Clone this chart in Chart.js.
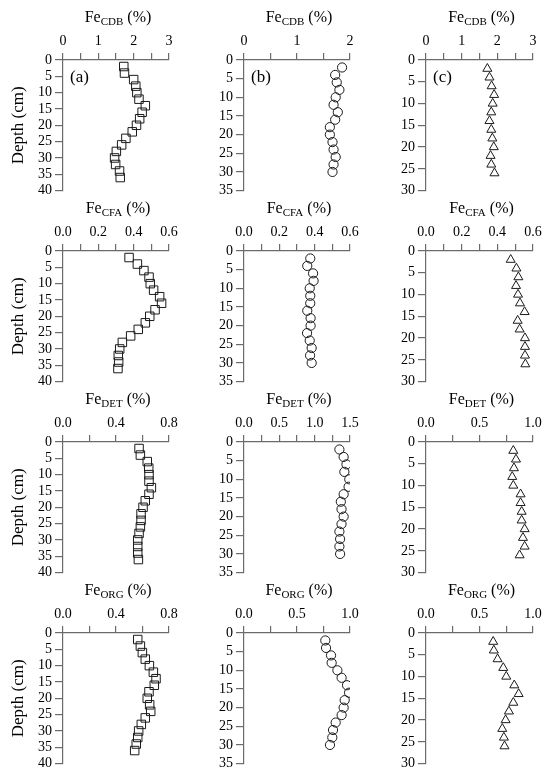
<!DOCTYPE html>
<html>
<head>
<meta charset="utf-8">
<script src="https://cdn.jsdelivr.net/npm/chart.js@4.4.1/dist/chart.umd.min.js"></script>
<style>
  html, body { margin: 0; padding: 0; background: #fff; }
  #fig { position: relative; width: 550px; height: 777px; font-family: "Liberation Serif"; }
  #fig canvas { position: absolute; }
  #warm { position: absolute; left: -999px; top: 0; font-family: "Liberation Serif"; font-size: 14px; }
</style>
</head>
<body>
<div id="warm">Depth 0123456789 Fe CDB</div>
<div id="fig"></div>
<script>
// profundidades (cm) de cada testigo
const depthA = [2, 4, 6, 8, 10, 12, 14, 16, 18, 20, 22, 24, 26, 28, 30, 32, 34, 36];
const depthB = [2, 4, 6, 8, 10, 12, 14, 16, 18, 20, 22, 24, 26, 28, 30];
const depthC = [2, 4, 6, 8, 10, 12, 14, 16, 18, 20, 22, 24, 26];
const depthMax = [40, 35, 30];

// Fe_CDB (%)
const cdbA = [1.72, 1.74, 2.00, 2.06, 2.09, 2.15, 2.33, 2.24, 2.17, 2.08, 1.96, 1.78, 1.66, 1.51, 1.46, 1.49, 1.60, 1.62];
const cdbB = [1.85, 1.72, 1.75, 1.80, 1.73, 1.69, 1.77, 1.72, 1.62, 1.62, 1.67, 1.69, 1.73, 1.69, 1.67];
const cdbC = [1.72, 1.78, 1.84, 1.91, 1.87, 1.83, 1.78, 1.83, 1.86, 1.90, 1.81, 1.83, 1.92];

// Fe_CFA (%)
const cfaA = [0.374, 0.421, 0.458, 0.487, 0.494, 0.513, 0.547, 0.558, 0.521, 0.491, 0.466, 0.426, 0.383, 0.336, 0.321, 0.313, 0.315, 0.311];
const cfaB = [0.375, 0.358, 0.391, 0.394, 0.372, 0.375, 0.375, 0.358, 0.377, 0.377, 0.357, 0.372, 0.383, 0.374, 0.383];
const cfaC = [0.475, 0.507, 0.518, 0.505, 0.516, 0.527, 0.553, 0.514, 0.525, 0.555, 0.555, 0.555, 0.557];

// Fe_DET (%)
const detA = [0.574, 0.584, 0.636, 0.647, 0.649, 0.649, 0.667, 0.649, 0.621, 0.604, 0.589, 0.589, 0.584, 0.574, 0.564, 0.564, 0.564, 0.569];
const detB = [1.35, 1.41, 1.45, 1.42, 1.49, 1.48, 1.41, 1.37, 1.38, 1.41, 1.38, 1.35, 1.36, 1.35, 1.36];
const detC = [0.816, 0.841, 0.822, 0.806, 0.816, 0.884, 0.884, 0.894, 0.894, 0.922, 0.906, 0.922, 0.875];

// Fe_ORG (%)
const orgA = [0.564, 0.584, 0.599, 0.621, 0.652, 0.682, 0.702, 0.689, 0.649, 0.636, 0.654, 0.662, 0.621, 0.591, 0.571, 0.564, 0.553, 0.541];
const orgB = [0.767, 0.774, 0.821, 0.827, 0.881, 0.921, 0.972, 0.991, 0.950, 0.940, 0.921, 0.865, 0.840, 0.833, 0.811];
const orgC = [0.628, 0.634, 0.669, 0.722, 0.750, 0.825, 0.866, 0.816, 0.775, 0.744, 0.713, 0.728, 0.734];

// ejes x: máximo, paso de marcas y paso de etiquetas
const fractions = ["CDB", "CFA", "DET", "ORG"];
const panelLetters = ["(a)", "(b)", "(c)"];
const xMax = [[3, 2, 3], [0.6, 0.6, 0.6], [0.8, 1.5, 1.0], [0.8, 1.0, 1.0]];
const xTickStep = [[0.5, 0.5, 0.5], [0.1, 0.1, 0.1], [0.2, 0.25, 0.25], [0.2, 0.25, 0.25]];
const xLabelStep = [[1, 1, 1], [0.2, 0.2, 0.2], [0.4, 0.5, 0.5], [0.4, 0.5, 0.5]];
const xDecimals = [0, 1, 1, 1];
const yStep = 5;

const rowSeries = [[cdbA, cdbB, cdbC], [cfaA, cfaB, cfaC], [detA, detB, detC], [orgA, orgB, orgC]];
const colDepths = [depthA, depthB, depthC];
const markers = [
    { style: "rect", radius: 6 },
    { style: "circle", radius: 4.6 },
    { style: "triangle", radius: 5.2 }
];

const FONT = "Liberation Serif";
const AXIS = "#6b6b6b";

Chart.defaults.font.family = FONT;

// título Fe con subíndice y letra del panel
function panelText(frac, letter) {
    return {
        id: "panelText",
        afterDraw(chart) {
            const ctx = chart.ctx, a = chart.chartArea;
            const big = '16px "' + FONT + '"', small = '11px "' + FONT + '"';
            ctx.save();
            ctx.fillStyle = "#000";
            ctx.textAlign = "left";
            ctx.textBaseline = "alphabetic";
            ctx.font = big;
            const w1 = ctx.measureText("Fe").width, w3 = ctx.measureText(" (%)").width;
            ctx.font = small;
            const w2 = ctx.measureText(frac).width;
            let x = (a.left + a.right) / 2 + 2 - (w1 + w2 + w3) / 2;
            const y = a.top - 38;
            ctx.font = big; ctx.fillText("Fe", x, y); x += w1;
            ctx.font = small; ctx.fillText(frac, x, y + 3); x += w2;
            ctx.font = big; ctx.fillText(" (%)", x, y);
            if (letter) {
                ctx.font = '17px "' + FONT + '"';
                ctx.textBaseline = "middle";
                ctx.fillText(letter, a.left + 7, a.top + 18);
            }
            ctx.restore();
        }
    };
}

function buildCharts() {
    const fig = document.getElementById("fig");
    const colLeft = [0, 181, 363];
    const colWidth = [181, 181, 182];
    const rowTop = [0, 191, 382, 573];

    rowSeries.forEach((series, r) => {
        series.forEach((vals, c) => {
            const canvas = document.createElement("canvas");
            canvas.width = colWidth[c];
            canvas.height = 202;
            canvas.style.left = colLeft[c] + "px";
            canvas.style.top = rowTop[r] + "px";
            fig.appendChild(canvas);

            const depths = colDepths[c];
            const points = vals.map((v, i) => ({ x: v, y: depths[i] }));
            const labStep = xLabelStep[r][c];

            new Chart(canvas.getContext("2d"), {
                type: "scatter",
                data: {
                    datasets: [{
                        data: points,
                        pointStyle: markers[c].style,
                        pointRadius: markers[c].radius,
                        pointHoverRadius: markers[c].radius,
                        borderColor: "#1a1a1a",
                        borderWidth: 1,
                        backgroundColor: "rgba(0,0,0,0)",
                        showLine: false
                    }]
                },
                options: {
                    responsive: false,
                    animation: false,
                    devicePixelRatio: 1,
                    layout: { padding: { left: 0, top: 0, right: 12, bottom: 10 } },
                    plugins: { legend: { display: false }, tooltip: { enabled: false } },
                    scales: {
                        x: {
                            type: "linear",
                            position: "top",
                            min: 0,
                            max: xMax[r][c],
                            afterFit: s => { s.height = 60; },
                            border: { display: true, color: AXIS, width: 1.2 },
                            grid: { drawOnChartArea: false, drawTicks: true, tickLength: 7, color: AXIS, lineWidth: 1.2 },
                            ticks: {
                                stepSize: xTickStep[r][c],
                                autoSkip: false,
                                maxRotation: 0,
                                padding: 3,
                                color: "#000",
                                font: { family: FONT, size: 14 },
                                callback: v => {
                                    const k = v / labStep;
                                    return Math.abs(k - Math.round(k)) < 1e-6 ? Number(v).toFixed(xDecimals[r]) : "";
                                }
                            }
                        },
                        y: {
                            type: "linear",
                            reverse: true,
                            min: 0,
                            max: depthMax[c],
                            afterFit: s => { s.width = 63; },
                            border: { display: true, color: AXIS, width: 1.2 },
                            grid: { drawOnChartArea: false, drawTicks: true, tickLength: 8, color: AXIS, lineWidth: 1.2 },
                            ticks: {
                                stepSize: yStep,
                                autoSkip: false,
                                padding: 3,
                                color: "#000",
                                font: { family: FONT, size: 14 }
                            },
                            title: {
                                display: c === 0,
                                text: "Depth (cm)",
                                color: "#000",
                                font: { family: FONT, size: 17 },
                                padding: { top: 8, bottom: 0 }
                            }
                        }
                    }
                },
                plugins: [panelText(fractions[r], r === 0 ? panelLetters[c] : null)]
            });
        });
    });
}

Promise.all([
    document.fonts.load('14px "Liberation Serif"'),
    document.fonts.load('17px "Liberation Serif"')
]).catch(() => null).then(buildCharts);
</script>
</body>
</html>
